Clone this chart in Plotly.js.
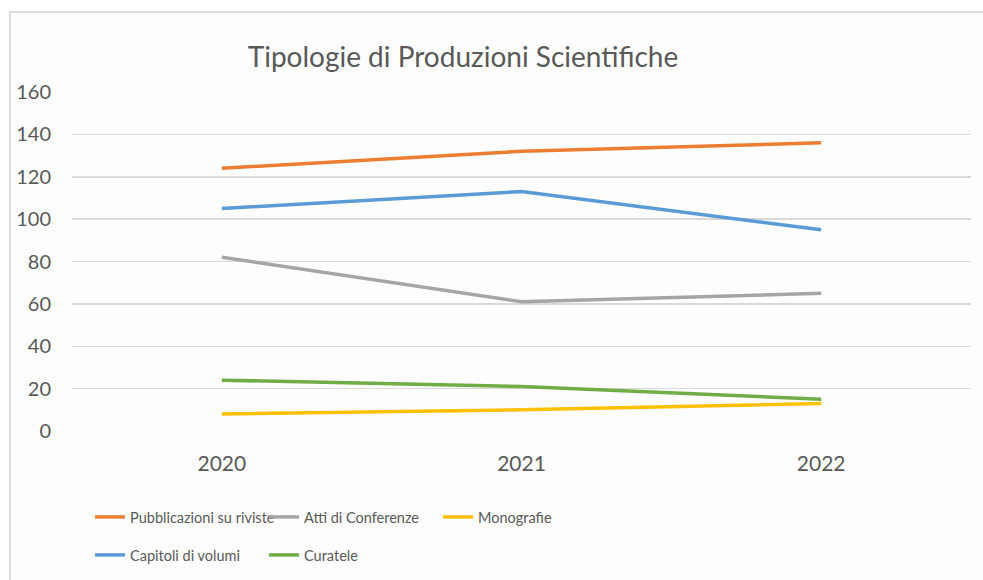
<!DOCTYPE html>
<html>
<head>
<meta charset="utf-8">
<script src="https://cdn.plot.ly/plotly-3.0.1.min.js"></script>
<style>
html,body{margin:0;padding:0;background:#ffffff;}
#frame{position:absolute;left:9px;top:11px;width:974px;height:569px;border-top:2px solid #dcdcdc;border-left:2px solid #dcdcdc;background:#fdfdfd;box-sizing:border-box;}
#chart{position:absolute;left:0;top:0;width:983px;height:580px;}
</style>
</head>
<body>
<div id="frame"></div>
<div id="chart"></div>
<script>
var years = ["2020", "2021", "2022"];
var pubblicazioni = [124, 132, 136];
var atti = [82, 61, 65];
var monografie = [8, 10, 13];
var capitoli = [105, 113, 95];
var curatele = [24, 21, 15];
var yTicks = [0, 20, 40, 60, 80, 100, 120, 140, 160];

var txt = "#595959";
var legFont = {family: "Lato, sans-serif", size: 14.5, color: txt};
function tr(name, y, color, leg) {
  return {x: years, y: y, name: name, type: "scatter", mode: "lines",
    line: {color: color, width: 3.5}, legend: leg, hoverinfo: "skip"};
}
var data = [
  tr("Capitoli di volumi", capitoli, "#5B9BD5", "legend2"),
  tr("Pubblicazioni su riviste", pubblicazioni, "#ED7D31", "legend"),
  tr("Atti di Conferenze", atti, "#A5A5A5", "legend"),
  tr("Monografie", monografie, "#FFC000", "legend"),
  tr("Curatele", curatele, "#70AD47", "legend2")
];
var layout = {
  width: 983, height: 580,
  paper_bgcolor: "rgba(0,0,0,0)", plot_bgcolor: "rgba(0,0,0,0)",
  margin: {l: 72, r: 12, t: 92, b: 149},
  title: {text: "Tipologie di Produzioni Scientifiche", font: {family: "Lato, sans-serif", size: 28, color: txt},
    xref: "container", yref: "container", x: 0.471, xanchor: "center", y: 0.902, yanchor: "middle"},
  xaxis: {type: "category", range: [-0.5, 2.5], showgrid: false, zeroline: false, showline: false,
    ticks: "outside", ticklen: 14, tickcolor: "rgba(0,0,0,0)",
    tickfont: {family: "Lato, sans-serif", size: 21, color: txt}},
  yaxis: {range: [0, 160], tickvals: yTicks, showgrid: true, gridcolor: "#d9d9d9", gridwidth: 1.5,
    zeroline: false, showline: false, ticks: "outside", ticklen: 16, tickcolor: "rgba(0,0,0,0)",
    tickfont: {family: "Lato, sans-serif", size: 20, color: txt}},
  legend: {orientation: "h", xref: "container", yref: "container", x: 0.0916, xanchor: "left", y: 0.1086, yanchor: "middle",
    entrywidth: 129, entrywidthmode: "pixels", font: legFont, bgcolor: "rgba(0,0,0,0)", traceorder: "normal"},
  legend2: {orientation: "h", xref: "container", yref: "container", x: 0.0916, xanchor: "left", y: 0.0431, yanchor: "middle",
    entrywidth: 129, entrywidthmode: "pixels", font: legFont, bgcolor: "rgba(0,0,0,0)", traceorder: "normal"},
  showlegend: true
};
Plotly.newPlot("chart", data, layout, {staticPlot: true});
</script>
</body>
</html>
